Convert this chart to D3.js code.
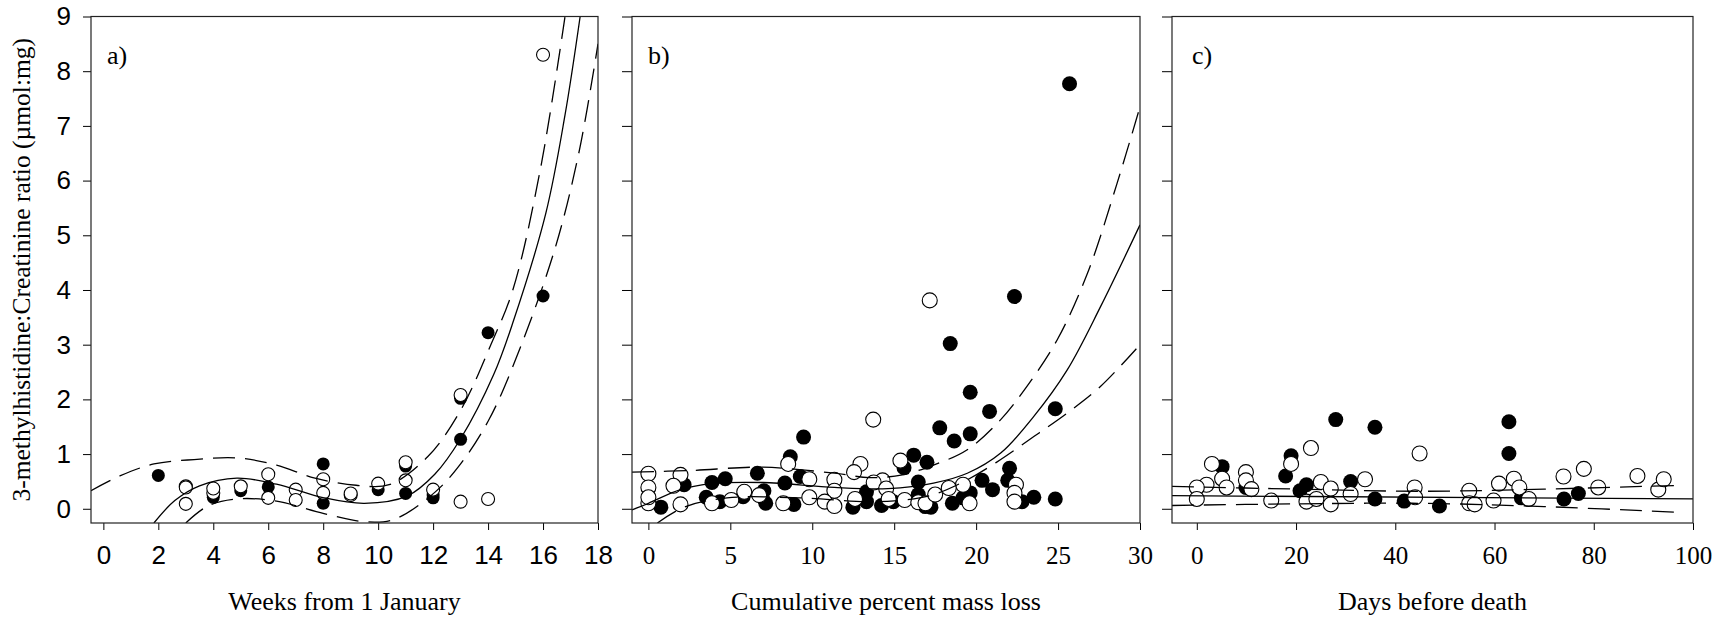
<!DOCTYPE html>
<html>
<head>
<meta charset="utf-8">
<script src="https://d3js.org/d3.v7.min.js"></script>
<style>
  body { margin: 0; background: #fff; }
  svg { display: block; }
</style>
</head>
<body>
<script>
// --- panel a: weeks from 1 January
var weeksFilled = [[2,0.61],[4,0.21],[5,0.33],[6,0.40],[8,0.82],[8,0.10],[10,0.35],[11,0.78],[11,0.28],
  [12,0.25],[12,0.20],[13,2.02],[13,1.27],[14,3.22],[16,3.89]];
var weeksOpen = [[3,0.41],[3,0.39],[3,0.09],[4,0.29],[4,0.37],[5,0.41],[6,0.63],[6,0.20],[7,0.35],[7,0.16],
  [8,0.54],[8,0.29],[9,0.25],[9,0.28],[10,0.46],[11,0.85],[11,0.52],[12,0.35],[13,2.08],[13,0.13],[14,0.18],[16,8.3]];
var weeksFit = [[1.84,-0.26],[2.6,0.15],[3.5,0.42],[4.86,0.56],[6.3,0.45],[8.03,0.2],[9.5,0.1],[11.05,0.23],
  [12.06,0.63],[13,1.28],[14.2,2.45],[14.9,3.4],[16.1,5.4],[16.8,7.2],[17.35,9]];
var weeksUpper = [[-0.45,0.33],[0.6,0.6],[1.84,0.82],[3.3,0.9],[4.86,0.93],[6.3,0.8],[7.7,0.56],[9.2,0.43],
  [10.4,0.44],[11.8,0.95],[13,1.8],[14.1,3.0],[14.9,4.0],[15.9,6.2],[16.8,9]];
var weeksLower = [[3.0,-0.26],[3.8,0.05],[4.86,0.18],[6.3,0.14],[8.03,-0.09],[9.6,-0.24],[10.6,-0.19],
  [12.06,0.3],[13,0.82],[14.0,1.6],[14.9,2.6],[16.4,4.7],[17.3,6.5],[18,8.5]];

// --- panel b: cumulative percent mass loss
var massFilled = [[25.7,7.77],[22.34,3.88],[18.42,3.02],[19.64,2.13],[20.82,1.78],[24.83,1.83],[17.78,1.48],
  [18.66,1.24],[19.64,1.37],[9.47,1.31],[16.19,0.98],[15.6,0.75],[17.0,0.85],[8.66,0.95],[6.65,0.65],
  [22.04,0.74],[21.93,0.52],[20.36,0.52],[16.47,0.49],[9.27,0.59],[4.69,0.55],[3.88,0.48],[8.33,0.47],
  [2.18,0.44],[21.0,0.35],[7.05,0.33],[13.31,0.31],[3.53,0.21],[5.78,0.22],[7.16,0.1],[8.88,0.08],
  [12.48,0.03],[13.31,0.13],[14.23,0.06],[14.95,0.13],[17.24,0.03],[16.9,0.04],[18.55,0.1],[19.64,0.29],
  [22.8,0.13],[23.52,0.21],[24.83,0.18],[0.76,0.03],[4.36,0.13],[16.47,0.26],[19.2,0.2]];
var massOpen = [[17.17,3.81],[13.72,1.63],[15.38,0.88],[8.53,0.82],[12.94,0.82],[12.55,0.67],[0,0.64],[1.96,0.62],
  [9.82,0.54],[11.35,0.53],[14.29,0.52],[13.75,0.48],[1.53,0.42],[0,0.39],[19.2,0.44],[18.33,0.38],
  [22.43,0.44],[22.34,0.29],[6.76,0.25],[5.85,0.31],[14.51,0.37],[11.35,0.33],[5.06,0.16],[8.23,0.1],
  [9.82,0.21],[10.76,0.13],[11.35,0.05],[12.61,0.18],[14.66,0.18],[15.64,0.16],[16.47,0.12],[16.91,0.1],
  [17.5,0.26],[19.6,0.1],[22.34,0.13],[0,0.1],[0,0.21],[1.96,0.08],[3.88,0.1]];
var massFit = [[-1,-0.02],[0,0.1],[1.96,0.35],[3.88,0.46],[6.98,0.48],[11.35,0.39],[14.62,0.37],[17.4,0.47],
  [19.46,0.65],[21.5,1.02],[23.52,1.69],[25.56,2.54],[27.6,3.7],[30,5.19]];
var massUpper = [[-1,0.67],[2.6,0.7],[6.98,0.76],[11.35,0.65],[13.5,0.57],[15.5,0.62],[17.4,0.8],[19.46,1.08],
  [21.5,1.63],[23.1,2.24],[24.95,3.09],[26.8,4.31],[28.6,5.95],[30,7.35]];
var massLower = [[0.55,-0.26],[2.18,0.03],[4.8,0.2],[9.16,0.2],[13.5,0.13],[15.6,0.16],[17.4,0.26],[19.46,0.53],
  [21.5,0.9],[23.52,1.32],[25.56,1.75],[27.6,2.24],[30,3.0]];

// --- panel c: days before death
var daysFilled = [[28,1.63],[35.9,1.49],[62.9,1.59],[62.9,1.01],[19,0.97],[17.9,0.6],[5.1,0.77],[9.9,0.39],
  [20.8,0.33],[22.1,0.44],[31,0.5],[35.9,0.18],[41.8,0.14],[48.9,0.05],[65.4,0.2],[74,0.18],[76.9,0.28]];
var daysOpen = [[3.05,0.82],[5.1,0.55],[1.96,0.44],[0,0.39],[0,0.18],[6,0.39],[9.9,0.67],[9.9,0.52],[11,0.36],
  [15,0.15],[19,0.82],[23,1.11],[22.1,0.13],[24.1,0.18],[25,0.49],[27,0.37],[27,0.08],[31,0.27],[33.9,0.54],
  [44.9,1.01],[43.9,0.39],[44,0.21],[54.9,0.33],[54.9,0.1],[56,0.08],[59.8,0.15],[60.9,0.46],[63.9,0.55],
  [65,0.39],[66.9,0.18],[73.9,0.59],[78,0.73],[80.9,0.39],[88.8,0.6],[93,0.35],[94.1,0.54]];
var daysFit = [[-5,0.24],[100,0.18]];
var daysUpper = [[-5,0.41],[20,0.36],[45,0.32],[70,0.36],[98,0.43]];
var daysLower = [[-5,0.06],[20,0.09],[45,0.1],[70,0.04],[98,-0.07]];

var yTicks = [0,1,2,3,4,5,6,7,8,9];
var panelLabels = ["a)", "b)", "c)"];
var xTitles = ["Weeks from 1 January", "Cumulative percent mass loss", "Days before death"];
var yTitle = "3-methylhistidine:Creatinine ratio (\u00b5mol:mg)";

var width = 1724, height = 621;
var plotTop = 16.5, plotBottom = 523;
var serif = "Liberation Serif, Times New Roman, serif";
var sans = "Liberation Sans, Arial, sans-serif";

var svg = d3.select("body").append("svg")
    .attr("width", width)
    .attr("height", height);

var y = d3.scaleLinear().domain([-0.26, 9]).range([plotBottom, plotTop]);

var panels = [
  { x0: 91, x1: 598, domain: [-0.45, 18], ticks: d3.range(0, 19, 2), font: sans, fsize: 26, ytick: 8,
    filled: weeksFilled, open: weeksOpen, fit: weeksFit, upper: weeksUpper, lower: weeksLower, r: 6.5 },
  { x0: 632, x1: 1140, domain: [-1, 30], ticks: d3.range(0, 31, 5), font: serif, fsize: 25, ytick: 10,
    filled: massFilled, open: massOpen, fit: massFit, upper: massUpper, lower: massLower, r: 7.5 },
  { x0: 1172, x1: 1693, domain: [-5, 100], ticks: d3.range(0, 101, 20), font: serif, fsize: 25, ytick: 10,
    filled: daysFilled, open: daysOpen, fit: daysFit, upper: daysUpper, lower: daysLower, r: 7.5 }
];

panels.forEach(function(p, i) {
  var x = d3.scaleLinear().domain(p.domain).range([p.x0, p.x1]);
  var g = svg.append("g");

  g.append("clipPath").attr("id", "clip" + i)
    .append("rect")
      .attr("x", p.x0).attr("y", plotTop)
      .attr("width", p.x1 - p.x0).attr("height", plotBottom - plotTop);

  // x axis
  var xAxis = g.append("g")
      .attr("transform", "translate(0," + plotBottom + ")")
      .call(d3.axisBottom(x).tickValues(p.ticks).tickSize(7).tickPadding(16).tickSizeOuter(0));
  xAxis.select(".domain").remove();
  xAxis.selectAll("text")
      .style("font-family", p.font)
      .style("font-size", p.fsize + "px")
      .attr("fill", "#000");

  // y axis
  var yAxis = g.append("g")
      .attr("transform", "translate(" + p.x0 + ",0)")
      .call(d3.axisLeft(y).tickValues(yTicks).tickSize(p.ytick).tickPadding(12).tickSizeOuter(0));
  yAxis.select(".domain").remove();
  if (i == 0) {
    yAxis.selectAll("text")
        .style("font-family", sans)
        .style("font-size", "26px")
        .attr("fill", "#000");
  } else {
    yAxis.selectAll("text").remove();
  }

  var plot = g.append("g").attr("clip-path", "url(#clip" + i + ")");

  plot.selectAll("circle.filled")
    .data(p.filled).enter().append("circle")
      .attr("class", "filled")
      .attr("cx", function(d) { return x(d[0]); })
      .attr("cy", function(d) { return y(d[1]); })
      .attr("r", p.r)
      .attr("fill", "#000");

  plot.selectAll("circle.open")
    .data(p.open).enter().append("circle")
      .attr("class", "open")
      .attr("cx", function(d) { return x(d[0]); })
      .attr("cy", function(d) { return y(d[1]); })
      .attr("r", p.r)
      .attr("fill", "#fff")
      .attr("stroke", "#000")
      .attr("stroke-width", 1.1);

  var line = d3.line()
      .x(function(d) { return x(d[0]); })
      .y(function(d) { return y(d[1]); })
      .curve(d3.curveCatmullRom.alpha(0.5));

  plot.append("path").datum(p.fit)
      .attr("d", line).attr("fill", "none").attr("stroke", "#000").attr("stroke-width", 1.3);
  [p.upper, p.lower].forEach(function(band) {
    plot.append("path").datum(band)
        .attr("d", line).attr("fill", "none").attr("stroke", "#000").attr("stroke-width", 1.3)
        .attr("stroke-dasharray", "22,10");
  });

  // frame
  g.append("rect")
      .attr("x", p.x0).attr("y", plotTop)
      .attr("width", p.x1 - p.x0).attr("height", plotBottom - plotTop)
      .attr("fill", "none").attr("stroke", "#222").attr("stroke-width", 1.2);

  g.append("text")
      .attr("x", p.x0 + [16, 16, 20][i]).attr("y", 64)
      .style("font-family", serif)
      .style("font-size", "26px")
      .text(panelLabels[i]);

  g.append("text")
      .attr("x", (p.x0 + p.x1) / 2).attr("y", 610)
      .attr("text-anchor", "middle")
      .style("font-family", serif)
      .style("font-size", "26px")
      .text(xTitles[i]);
});

svg.append("text")
    .attr("transform", "translate(30," + ((plotTop + plotBottom) / 2) + ") rotate(-90)")
    .attr("text-anchor", "middle")
    .style("font-family", serif)
    .style("font-size", "25.5px")
    .text(yTitle);
</script>
</body>
</html>
